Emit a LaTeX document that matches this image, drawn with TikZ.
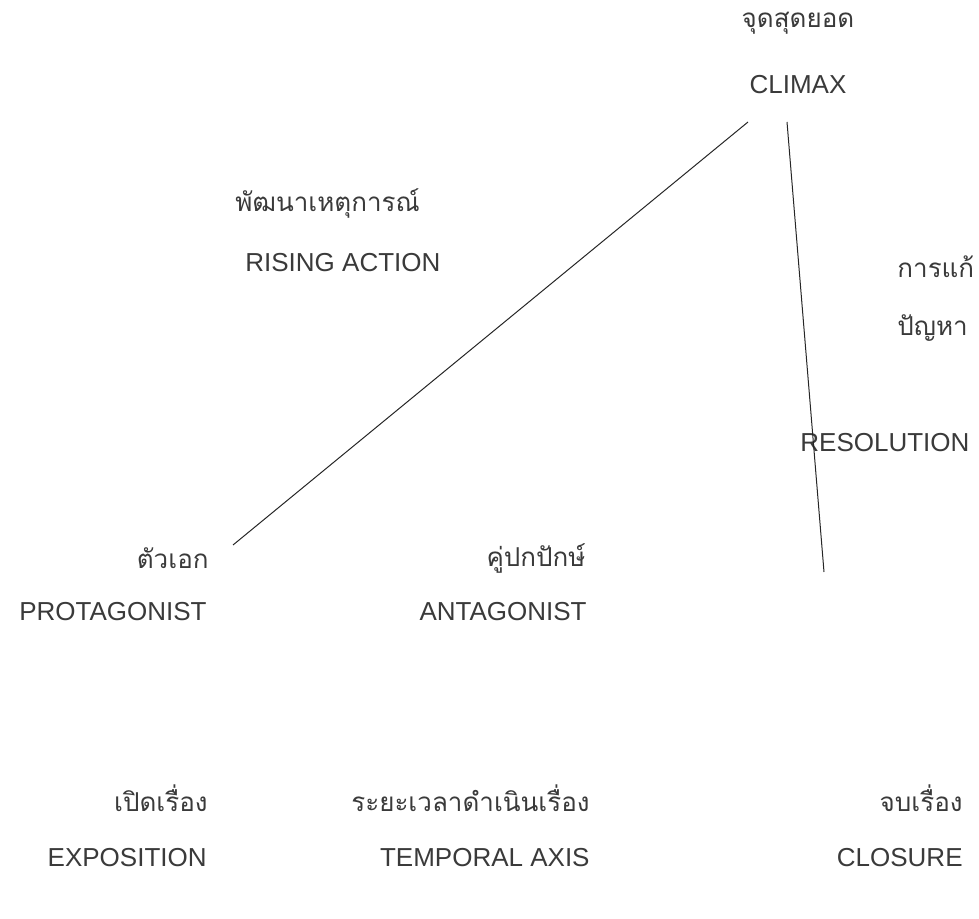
\documentclass[tikz,border=0pt]{standalone}
\usepackage{fontspec}
\setmainfont{Liberation Sans}
\newfontfamily\thaifont[Script=Thai]{Loma}
\usepackage{tikz}
\usetikzlibrary{positioning}

\definecolor{inkgray}{HTML}{3A3A3A}
\tikzset{
    en/.style={inner sep=0pt, text=inkgray, font=\fontsize{13}{15}\selectfont},
    th/.style={inner sep=0pt, text=inkgray, font=\thaifont\fontsize{13}{15}\selectfont},
    arc/.style={draw=black!85, line width=0.5pt}
}

\begin{document}
\begin{tikzpicture}[x=0.5pt, y=-0.5pt]
                        \useasboundingbox (0, 0) rectangle (979, 919);
                        % climax
                        \node[th] (thclimax) at (798, 23) {จุดสุดยอด};
                        \node[en] (climax) at (798, 85) {CLIMAX};
                        % rising action
                        \node[th, anchor=west] (thrising) at (235, 203) {พัฒนาเหตุการณ์};
                        \node[en, anchor=west] (rising) at (245, 263) {RISING ACTION};
                        % resolution
                        \node[th, anchor=west] (thresolA) at (897, 267) {การแก้};
                        \node[th, anchor=west] (thresolB) at (897, 328) {ปัญหา};
                        \node[en, anchor=west] (resol) at (800, 443) {RESOLUTION};
                        % characters
                        \node[th, anchor=east] (thprot) at (209, 558) {ตัวเอก};
                        \node[en, anchor=east] (prot) at (207, 612) {PROTAGONIST};
                        \node[th, anchor=east] (thant) at (586, 558) {คู่ปกปักษ์};
                        \node[en, anchor=east] (ant) at (587, 612) {ANTAGONIST};
                        % time line
                        \node[th, anchor=east] (thexpo) at (208, 798) {เปิดเรื่อง};
                        \node[en, anchor=east] (expo) at (207, 858) {EXPOSITION};
                        \node[th, anchor=east] (thtemp) at (590, 798) {ระยะเวลาดำเนินเรื่อง};
                        \node[en, anchor=east] (temp) at (590, 858) {TEMPORAL AXIS};
                        \node[th, anchor=east] (thclose) at (963, 798) {จบเรื่อง};
                        \node[en, anchor=east] (close) at (963, 858) {CLOSURE};
                        % curve ends
                        \coordinate (risestart) at (233, 545);
                        \coordinate (peakL) at (748, 122);
                        \coordinate (peakR) at (787, 122);
                        \coordinate (fallend) at (824, 572);
                        \draw[arc] (risestart) -- (peakL);
                        \draw[arc] (peakR) -- (fallend);
                    \end{tikzpicture}
\end{document}
